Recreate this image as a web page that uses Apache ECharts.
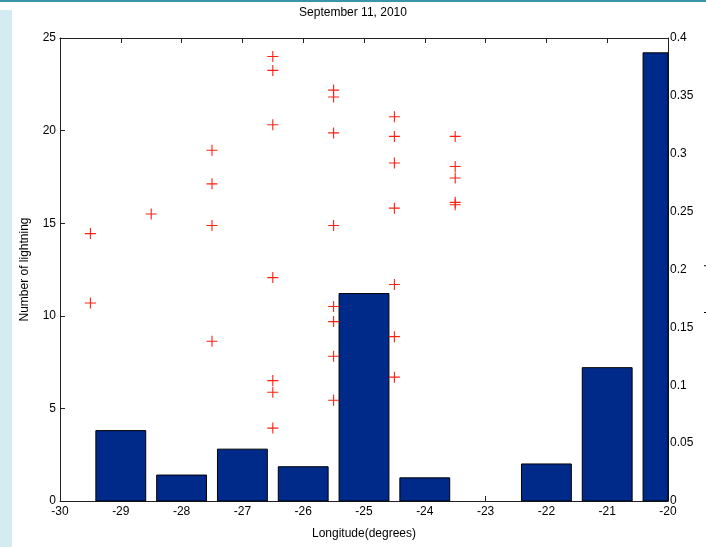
<!DOCTYPE html>
<html>
<head>
<meta charset="utf-8">
<script src="https://cdn.jsdelivr.net/npm/echarts@6/dist/echarts.min.js"></script>
<style>html,body{margin:0;padding:0;background:#fff}#c{width:706px;height:547px}</style>
</head>
<body>
<div id="c"></div>
<script>
// Bars: number of lightning per longitude bin (left axis)
var barLongitudes = [-29, -28, -27, -26, -25, -24, -23, -22, -21, -20];
var barValues = [3.8, 1.4, 2.8, 1.85, 11.2, 1.25, 0, 2.0, 7.2, 24.2];

// Plus markers: aerosol optical depth (right axis)
var aodLongitudes = [
  -29.5, -29.5,
  -28.5,
  -27.5, -27.5, -27.5, -27.5,
  -26.5, -26.5, -26.5, -26.5, -26.5, -26.5, -26.5,
  -25.5, -25.5, -25.5, -25.5, -25.5, -25.5, -25.5, -25.5,
  -24.5, -24.5, -24.5, -24.5, -24.5, -24.5, -24.5,
  -23.5, -23.5, -23.5, -23.5, -23.5
];
var aodValues = [
  0.231, 0.171,
  0.248,
  0.303, 0.274, 0.238, 0.138,
  0.384, 0.372, 0.325, 0.193, 0.104, 0.094, 0.063,
  0.355, 0.349, 0.318, 0.238, 0.168, 0.155, 0.125, 0.087,
  0.332, 0.315, 0.292, 0.253, 0.187, 0.142, 0.107,
  0.315, 0.289, 0.279, 0.258, 0.256
];

var xTicks = { min: -30, max: -20, interval: 1 };
var leftTicks = { min: 0, max: 25, interval: 5 };
var rightTicks = { min: 0, max: 0.4, interval: 0.05 };
var barHalfWidth = 0.41; // in longitude units

var font = "'Liberation Sans Narrow', 'Liberation Sans', Arial, sans-serif";
var axisCol = '#222';

var chart = echarts.init(document.getElementById('c'), null, { renderer: 'canvas' });
var barData = barLongitudes.map(function (x, i) { return [x, barValues[i]]; });
var aodData = aodLongitudes.map(function (x, i) { return [x, aodValues[i]]; });

function renderBar(params, api) {
  var x = api.value(0), y = api.value(1);
  if (!(y > 0)) return null;
  var p1 = api.coord([x - barHalfWidth, y]);
  var p2 = api.coord([x + barHalfWidth, 0]);
  var rect = echarts.graphic.clipRectByRect(
    { x: p1[0], y: p1[1], width: p2[0] - p1[0], height: p2[1] - p1[1] },
    { x: params.coordSys.x, y: params.coordSys.y, width: params.coordSys.width, height: params.coordSys.height }
  );
  if (!rect) return null;
  return {
    type: 'rect', shape: rect,
    style: { fill: '#002a8a', stroke: '#000', lineWidth: 1 }
  };
}

chart.setOption({
  backgroundColor: '#fff',
  animation: false,
  title: {
    text: 'September 11, 2010',
    left: 'center',
    top: 2,
    textStyle: { fontFamily: font, fontSize: 12, fontWeight: 'normal', color: '#000' }
  },
  graphic: [
    { type: 'rect', shape: { x: 0, y: 0, width: 706, height: 2 }, style: { fill: '#3a95a8' }, silent: true },
    { type: 'rect', shape: { x: 0, y: 10, width: 12, height: 537 }, style: { fill: '#d5ebf2' }, silent: true }
  ],
  grid: { left: 60, right: 38, top: 38, bottom: 46, containLabel: false, outerBoundsMode: 'none' },
  xAxis: [
    {
      type: 'value', min: xTicks.min, max: xTicks.max, interval: xTicks.interval,
      name: 'Longitude(degrees)', nameLocation: 'middle', nameGap: 27,
      nameTextStyle: { fontFamily: font, fontSize: 12, color: '#000' },
      axisLine: { show: true, onZero: false, lineStyle: { color: axisCol, width: 1 } },
      axisTick: { show: true, inside: true, length: 5, lineStyle: { color: axisCol } },
      axisLabel: { fontFamily: font, fontSize: 12, color: '#000', margin: 5 },
      splitLine: { show: false }
    },
    {
      type: 'value', position: 'top', min: xTicks.min, max: xTicks.max, interval: xTicks.interval,
      axisLine: { show: true, onZero: false, lineStyle: { color: axisCol, width: 1 } },
      axisTick: { show: true, inside: true, length: 5, lineStyle: { color: axisCol } },
      axisLabel: { show: false },
      splitLine: { show: false }
    }
  ],
  yAxis: [
    {
      type: 'value', min: leftTicks.min, max: leftTicks.max, interval: leftTicks.interval,
      name: 'Number of lightning', nameLocation: 'middle', nameGap: 29, nameRotate: 90,
      nameTextStyle: { fontFamily: font, fontSize: 12, color: '#000' },
      axisLine: { show: true, onZero: false, lineStyle: { color: axisCol, width: 1 } },
      axisTick: { show: true, inside: true, length: 5, lineStyle: { color: axisCol } },
      axisLabel: { fontFamily: font, fontSize: 12, color: '#000', margin: 4 },
      splitLine: { show: false }
    },
    {
      type: 'value', position: 'right', min: rightTicks.min, max: rightTicks.max, interval: rightTicks.interval,
      name: 'Aerosol Optical Depth', nameLocation: 'middle', nameGap: 33, nameRotate: -90,
      nameTextStyle: { fontFamily: font, fontSize: 12, color: '#000' },
      axisLine: { show: true, onZero: false, lineStyle: { color: axisCol, width: 1 } },
      axisTick: { show: true, inside: true, length: 5, lineStyle: { color: axisCol } },
      axisLabel: { fontFamily: font, fontSize: 12, color: '#000', margin: 2,
        formatter: function (v) { return String(parseFloat(v.toFixed(2))); } },
      splitLine: { show: false }
    }
  ],
  series: [
    {
      type: 'custom', xAxisIndex: 0, yAxisIndex: 0, data: barData,
      renderItem: renderBar, encode: { x: 0, y: 1 }
    },
    {
      type: 'scatter', xAxisIndex: 0, yAxisIndex: 1, data: aodData,
      symbol: 'path://M0,4.5H10V5.5H0Z M4.5,0H5.5V10H4.5Z', symbolSize: 11,
      itemStyle: { color: '#ff2010', opacity: 1 }, z: 3
    }
  ]
});
</script>
</body>
</html>
